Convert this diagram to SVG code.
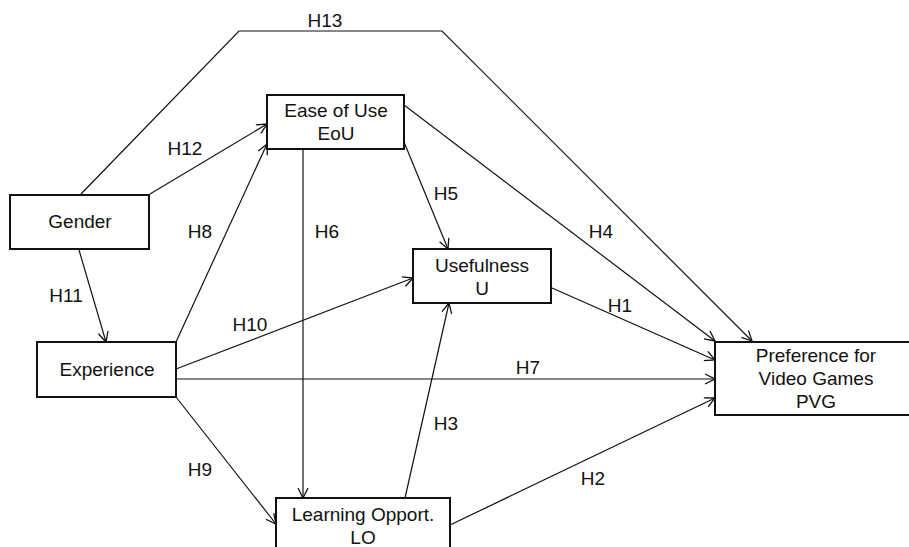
<svg xmlns="http://www.w3.org/2000/svg" width="909" height="547" viewBox="0 0 909 547">
<defs>
<marker id="arr" viewBox="0 0 12 12" refX="11" refY="6" markerWidth="12" markerHeight="12" markerUnits="userSpaceOnUse" orient="auto">
<path d="M1,1 L11,6 L1,11" fill="none" stroke="#111" stroke-width="1.3"/>
</marker>
<style>
.box{fill:#fff;stroke:#111;stroke-width:2}
.t{font-family:"Liberation Sans",Arial,sans-serif;font-size:19px;fill:#111;text-anchor:middle}
.c{fill:none;stroke:#111;stroke-width:1.2}
.a{marker-end:url(#arr)}
</style>
</defs>
<rect width="909" height="547" fill="#fff"/>
<g id="connectors">
<polyline class="c a" points="81,194 239,31 442,31 752,341"/>
<line class="c a" x1="150" y1="194" x2="267" y2="124"/>
<line class="c a" x1="176" y1="342" x2="267" y2="144"/>
<line class="c a" x1="303" y1="149" x2="303" y2="498"/>
<line class="c a" x1="404" y1="142" x2="448" y2="249"/>
<line class="c a" x1="404" y1="105" x2="715" y2="341"/>
<line class="c a" x1="79" y1="250" x2="106" y2="342"/>
<line class="c a" x1="176" y1="369" x2="413" y2="278"/>
<line class="c a" x1="176" y1="379" x2="715" y2="379"/>
<line class="c a" x1="176" y1="397" x2="276" y2="524"/>
<line class="c a" x1="405" y1="498" x2="449" y2="303"/>
<line class="c a" x1="552" y1="288" x2="715" y2="360"/>
<line class="c a" x1="450" y1="525" x2="715" y2="398"/>
<text class="t" x="325" y="27">H13</text>
<text class="t" x="185" y="155">H12</text>
<text class="t" x="200" y="238">H8</text>
<text class="t" x="327" y="238">H6</text>
<text class="t" x="446" y="200">H5</text>
<text class="t" x="601" y="238">H4</text>
<text class="t" x="66" y="302">H11</text>
<text class="t" x="250" y="331">H10</text>
<text class="t" x="528" y="374">H7</text>
<text class="t" x="200" y="476">H9</text>
<text class="t" x="446" y="430">H3</text>
<text class="t" x="620" y="312">H1</text>
<text class="t" x="593" y="485">H2</text>
</g>
<g id="gender">
<rect class="box" x="10" y="195" width="139" height="54"/>
<text class="t" x="80" y="228">Gender</text>
</g>
<g id="eou">
<rect class="box" x="267" y="95" width="137" height="54"/>
<text class="t" x="336" y="117">Ease of Use</text>
<text class="t" x="336" y="140">EoU</text>
</g>
<g id="usefulness">
<rect class="box" x="413" y="249" width="138" height="54"/>
<text class="t" x="482" y="272">Usefulness</text>
<text class="t" x="482" y="295">U</text>
</g>
<g id="experience">
<rect class="box" x="37" y="342" width="139" height="55"/>
<text class="t" x="107" y="376">Experience</text>
</g>
<g id="lo">
<rect class="box" x="276" y="498" width="174" height="60"/>
<text class="t" x="363" y="521">Learning Opport.</text>
<text class="t" x="363" y="544">LO</text>
</g>
<g id="pvg">
<rect class="box" x="715" y="342" width="202" height="73"/>
<text class="t" x="816" y="362">Preference for</text>
<text class="t" x="816" y="385">Video Games</text>
<text class="t" x="816" y="408">PVG</text>
</g>
</svg>
